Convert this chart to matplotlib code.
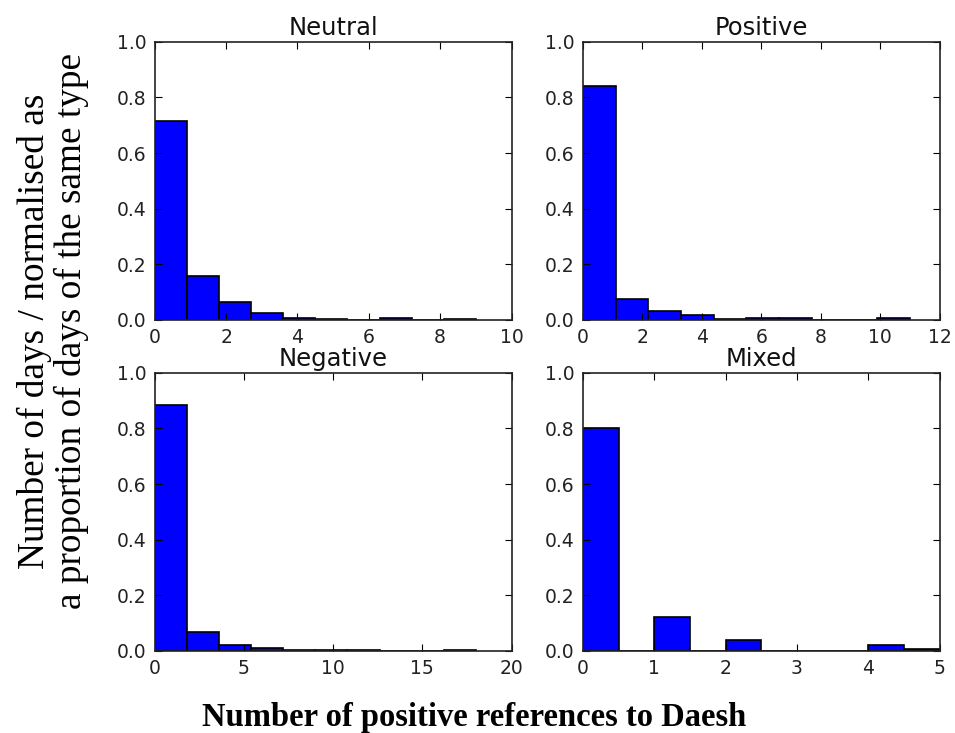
import numpy as np
import matplotlib
matplotlib.use("Agg")
import matplotlib.pyplot as plt

# proportion of days in each of the 10 histogram bins, per sentiment type
titles = ["Neutral", "Positive", "Negative", "Mixed"]
max_counts = [9, 11, 18, 5]
xlims = [10, 12, 20, 5]
neutral = [0.715, 0.157, 0.064, 0.026, 0.006, 0.003, 0.0, 0.006, 0.0, 0.002]
positive = [0.840, 0.074, 0.033, 0.017, 0.003, 0.006, 0.006, 0.0, 0.0, 0.006]
negative = [0.883, 0.068, 0.022, 0.012, 0.003, 0.003, 0.003, 0.0, 0.0, 0.004]
mixed = [0.802, 0.0, 0.123, 0.0, 0.040, 0.0, 0.0, 0.0, 0.022, 0.007]
heights = [neutral, positive, negative, mixed]
yticks = [0.0, 0.2, 0.4, 0.6, 0.8, 1.0]

plt.rcParams['font.family'] = 'DejaVu Sans'
plt.rcParams['font.size'] = 13

fig, axes = plt.subplots(2, 2, figsize=(9.55, 7.33), dpi=100)
fig.subplots_adjust(left=0.162, right=0.984, top=0.943, bottom=0.112,
                    wspace=0.2, hspace=0.19)

for ax, title, hmax, xmax, h in zip(axes.flat, titles, max_counts, xlims, heights):
    edges = np.linspace(0, hmax, len(h) + 1)
    ax.bar(edges[:-1], h, width=np.diff(edges), align='edge',
           color='#0000ff', edgecolor='black', linewidth=1.2)
    ax.set_xlim(0, xmax)
    ax.set_ylim(0, 1.0)
    ax.set_yticks(yticks)
    ax.set_title(title, fontsize=17.5, pad=5, color='#111111')
    ax.tick_params(direction='in', top=True, right=True, length=5,
                   labelsize=13.5, pad=6, colors='black', labelcolor='#222222')
    for s in ax.spines.values():
        s.set_linewidth(1.2)
        s.set_color('#222222')

fig.text(0.055, 0.548, "Number of days / normalised as\na proportion of days of the same type",
         rotation=90, ha='center', va='center', family='Liberation Serif',
         fontsize=26.8, linespacing=1.07)
fig.text(0.496, 0.021, "Number of positive references to Daesh",
         ha='center', va='center', family='Liberation Serif',
         fontsize=23.5, weight='bold')

fig.savefig("out.png", dpi=100, facecolor='white')
